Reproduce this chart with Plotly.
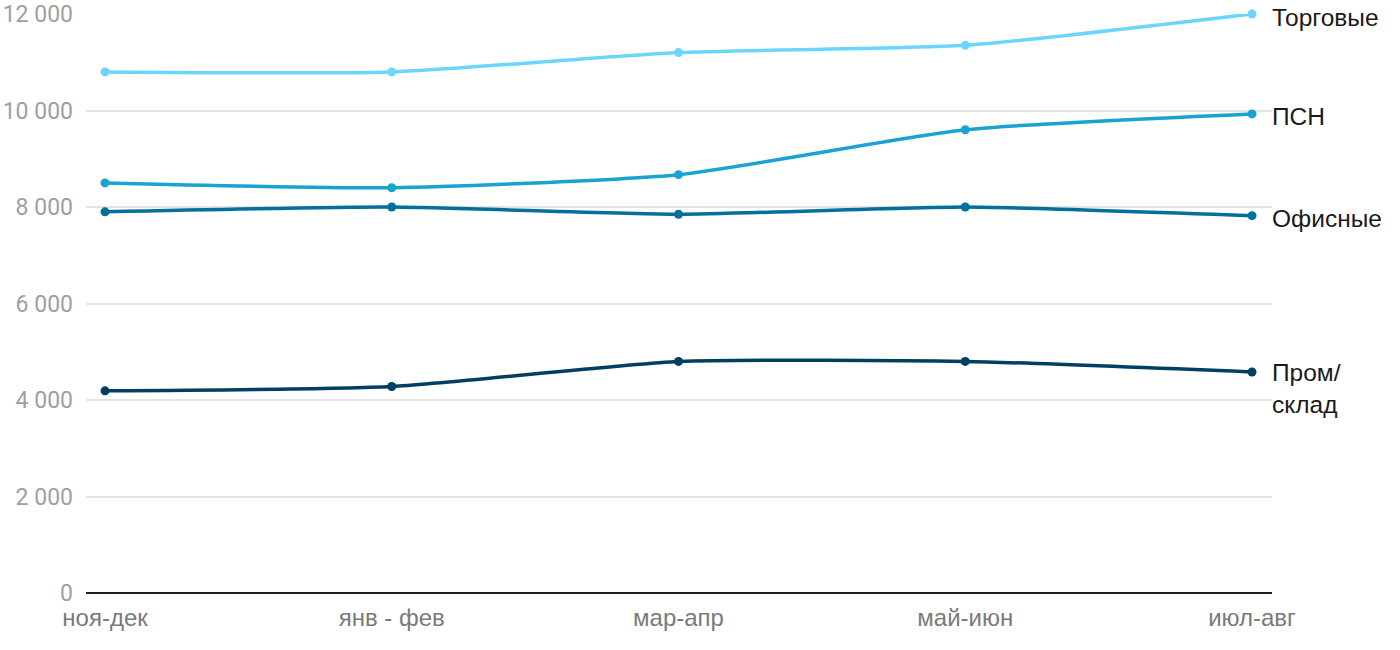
import plotly.graph_objects as go

categories = ["ноя-дек", "янв - фев", "мар-апр", "май-июн", "июл-авг"]
torgovye = [10800, 10800, 11200, 11350, 12000]
psn = [8500, 8400, 8670, 9600, 9930]
ofisnye = [7900, 8000, 7850, 8000, 7820]
prom = [4190, 4280, 4800, 4800, 4580]

series_names = ["Торговые", "ПСН", "Офисные", "Пром/<br>склад"]
series_values = [torgovye, psn, ofisnye, prom]
colors = ["#6AD6FF", "#1AA3CF", "#02709A", "#003F61"]

y_ticks = [0, 2000, 4000, 6000, 8000, 10000, 12000]
y_tick_labels = ["0", "2 000", "4 000", "6 000", "8 000", "10 000", "12 000"]

xs = list(range(len(categories)))

fig = go.Figure()
for name, vals, col in zip(series_names, series_values, colors):
    fig.add_trace(go.Scatter(
        x=xs, y=vals, mode="lines+markers",
        line=dict(color=col, width=3.5, shape="spline", smoothing=0.55),
        marker=dict(color=col, size=9),
        name=name, showlegend=False, cliponaxis=False,
    ))
    last = vals[-1]
    is_two = "<br>" in name
    fig.add_annotation(
        x=1, xref="paper", y=last, yref="y",
        text=name, showarrow=False, xanchor="left",
        yanchor="top" if is_two else "middle",
        yshift=15 if is_two else -3,
        xshift=-2, align="left",
        font=dict(family="Liberation Sans, Arial", size=24.5, color="#1a1a1a"),
    )

fig.update_layout(
    width=1400, height=650,
    margin=dict(l=86, r=128, t=14, b=57),
    paper_bgcolor="white", plot_bgcolor="white",
    xaxis=dict(
        tickmode="array", tickvals=xs, ticktext=categories,
        range=[-0.0663, 4.0697], showgrid=False, zeroline=False,
        showline=False, ticks="", automargin=False, ticklabelstandoff=8,
        tickfont=dict(family="Liberation Sans, Arial", size=24, color="#7a7a7a"),
    ),
    yaxis=dict(
        tickmode="array", tickvals=y_ticks, ticktext=y_tick_labels,
        range=[0, 12000], showgrid=True, gridcolor="#e4e4e4", gridwidth=1.5,
        zeroline=True, zerolinecolor="#1e1e1e", zerolinewidth=2,
        ticks="", ticklabelstandoff=12, automargin=False,
        tickfont=dict(family="Roboto", size=23, color="#a0a0a0"),
    ),
)

fig.write_html(
    "out.html",
    config={"displayModeBar": False},
    post_script="document.body.style.margin='0';document.body.style.overflow='hidden';",
)
